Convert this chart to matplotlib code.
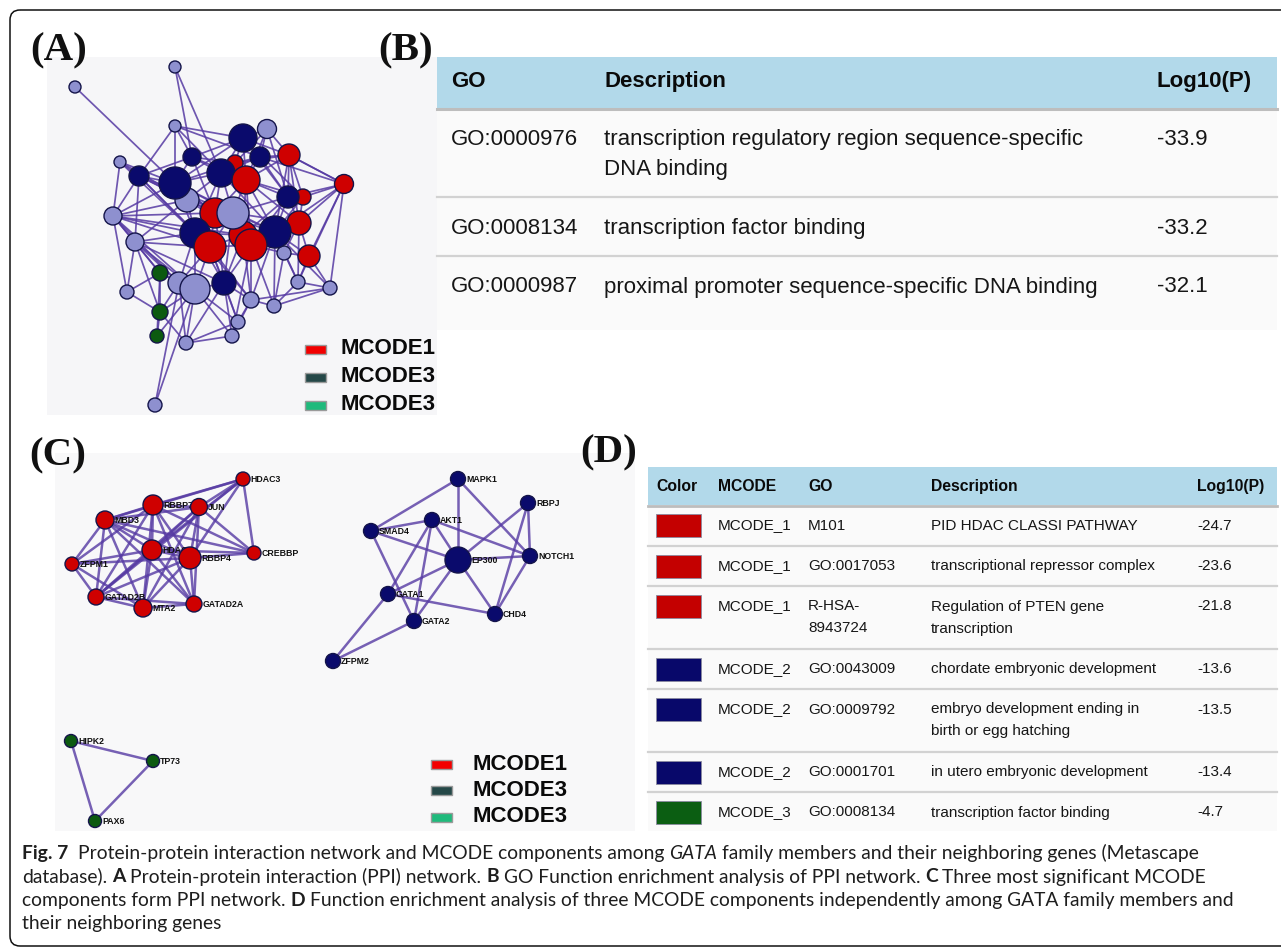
import matplotlib
matplotlib.use("Agg")
import matplotlib.pyplot as plt
from matplotlib.patches import Circle, Rectangle, FancyBboxPatch

# ---------------- (A) PPI network ----------------
a_x = [175, 75, 175, 267, 243, 289, 260, 192, 120, 235, 221, 139, 175, 246, 344,
       288, 303, 187, 215, 233, 113, 299, 275, 195, 243, 210, 251, 135, 284, 309,
       160, 179, 195, 224, 298, 330, 127, 251, 160, 274, 238, 157, 186, 232, 155]
a_y = [67, 87, 126, 129, 138, 155, 157, 157, 162, 163, 173, 176, 183, 180, 184,
       197, 197, 200, 213, 213, 216, 223, 232, 233, 235, 247, 245, 242, 253, 256,
       273, 283, 289, 283, 282, 288, 292, 300, 312, 306, 322, 336, 343, 336, 405]
a_r = [6, 6, 6, 9.5, 14, 11, 10, 9, 6, 8, 14, 10, 16, 14, 9.5,
       11, 8, 12, 15, 16, 9, 12, 16, 15, 14, 16, 16, 9, 7, 11,
       8, 11, 15, 12, 7, 7, 7, 8, 8, 7, 7, 7, 7, 7, 7]
a_kind = ["L", "L", "L", "L", "N", "R", "N", "N", "L", "R", "N", "N", "N", "R", "R",
          "N", "R", "L", "R", "L", "L", "R", "N", "N", "R", "R", "R", "L", "L", "R",
          "G", "L", "L", "N", "L", "L", "L", "L", "G", "L", "L", "G", "L", "L", "L"]
a_edges = [
    (1, 12), (0, 10), (0, 7), (2, 7), (2, 12), (2, 4), (2, 11), (2, 6),
    (3, 4), (3, 6), (3, 5), (3, 9), (3, 15),
    (4, 6), (4, 5), (4, 9), (4, 10), (4, 13), (4, 7), (4, 12), (4, 15), (4, 16),
    (5, 6), (5, 14), (5, 13), (5, 15), (5, 21), (5, 16), (5, 22), (5, 9),
    (6, 13), (6, 15), (6, 10), (6, 9), (6, 14),
    (7, 12), (7, 10), (7, 11), (7, 9), (7, 13), (7, 18),
    (8, 11), (8, 12), (8, 20), (8, 23),
    (9, 10), (9, 13), (9, 12),
    (10, 13), (10, 12), (10, 18), (10, 19), (10, 17), (10, 22), (10, 23),
    (11, 12), (11, 20), (11, 27), (11, 23), (11, 17), (11, 25), (11, 18),
    (12, 17), (12, 18), (12, 23), (12, 19), (12, 20), (12, 24),
    (13, 19), (13, 18), (13, 15), (13, 22), (13, 24), (13, 16), (13, 26),
    (14, 16), (14, 15), (14, 21), (14, 22), (14, 29), (14, 35), (14, 34),
    (15, 16), (15, 22), (15, 21), (15, 19), (15, 24),
    (16, 21), (16, 22),
    (17, 18), (17, 23), (17, 20), (17, 19), (17, 27),
    (18, 19), (18, 23), (18, 25), (18, 24), (18, 26), (18, 22),
    (19, 22), (19, 24), (19, 26), (19, 25), (19, 23), (19, 21),
    (20, 27), (20, 23), (20, 25), (20, 24), (20, 36), (20, 30), (20, 31), (20, 18),
    (21, 22), (21, 29), (21, 28), (21, 34), (21, 24),
    (22, 24), (22, 26), (22, 28), (22, 29), (22, 34), (22, 35), (22, 37), (22, 39),
    (23, 25), (23, 24), (23, 27), (23, 32), (23, 31), (23, 33),
    (24, 26), (24, 25), (24, 33), (24, 37),
    (25, 26), (25, 32), (25, 33), (25, 31), (25, 27), (25, 40),
    (26, 33), (26, 37), (26, 28), (26, 39), (26, 43),
    (27, 36), (27, 30), (27, 31), (27, 32), (27, 38),
    (28, 29), (28, 34), (28, 39), (29, 34), (29, 35),
    (30, 31), (30, 32), (30, 38), (30, 41), (30, 36),
    (31, 32), (31, 38), (31, 42), (31, 44),
    (32, 33), (32, 38), (32, 41), (32, 42), (32, 43), (32, 40), (32, 44),
    (33, 37), (33, 40), (33, 43), (33, 42),
    (34, 35), (34, 39), (35, 39), (35, 37),
    (37, 40), (37, 39), (37, 43), (38, 41), (38, 42),
    (40, 43), (40, 42), (42, 43), (36, 38),
    (8, 17), (11, 19), (12, 22), (17, 24), (20, 32), (27, 33), (23, 37), (13, 21),
    (15, 26), (19, 33), (18, 33), (25, 37), (2, 10), (3, 13), (14, 5),
]

# ---------------- (C) MCODE components ----------------
c1_names = ["HDAC3", "RBBP7", "JUN", "MBD3", "HDAC1", "RBBP4", "CREBBP",
            "ZFPM1", "GATAD2B", "MTA2", "GATAD2A"]
c1_x = [243, 153, 199, 105, 152, 190, 254, 72, 96, 143, 194]
c1_y = [479, 505, 507, 520, 550, 558, 553, 564, 597, 608, 604]
c1_r = [7, 10, 8.5, 9, 10, 11, 7, 7, 8, 9, 8]
c1_edges = [
    ("HDAC3", "RBBP7"), ("HDAC3", "JUN"), ("HDAC3", "CREBBP"), ("HDAC3", "RBBP4"),
    ("HDAC3", "HDAC1"), ("HDAC3", "MBD3"), ("HDAC3", "GATAD2B"),
    ("RBBP7", "JUN"), ("RBBP7", "MBD3"), ("RBBP7", "HDAC1"), ("RBBP7", "RBBP4"),
    ("RBBP7", "CREBBP"), ("RBBP7", "ZFPM1"), ("RBBP7", "GATAD2B"), ("RBBP7", "MTA2"),
    ("RBBP7", "GATAD2A"),
    ("JUN", "MBD3"), ("JUN", "HDAC1"), ("JUN", "RBBP4"), ("JUN", "CREBBP"),
    ("JUN", "MTA2"), ("JUN", "GATAD2B"), ("JUN", "GATAD2A"),
    ("MBD3", "HDAC1"), ("MBD3", "RBBP4"), ("MBD3", "ZFPM1"), ("MBD3", "GATAD2B"),
    ("MBD3", "MTA2"), ("MBD3", "GATAD2A"), ("MBD3", "CREBBP"),
    ("HDAC1", "RBBP4"), ("HDAC1", "ZFPM1"), ("HDAC1", "GATAD2B"), ("HDAC1", "MTA2"),
    ("HDAC1", "GATAD2A"), ("HDAC1", "CREBBP"),
    ("RBBP4", "CREBBP"), ("RBBP4", "ZFPM1"), ("RBBP4", "GATAD2B"), ("RBBP4", "MTA2"),
    ("RBBP4", "GATAD2A"),
    ("ZFPM1", "GATAD2B"), ("ZFPM1", "MTA2"),
    ("GATAD2B", "MTA2"), ("GATAD2B", "GATAD2A"), ("MTA2", "GATAD2A"),
]

c2_names = ["MAPK1", "RBPJ", "AKT1", "SMAD4", "EP300", "NOTCH1", "GATA1",
            "CHD4", "GATA2", "ZFPM2"]
c2_x = [458, 528, 432, 371, 458, 530, 388, 495, 414, 333]
c2_y = [479, 503, 520, 531, 560, 556, 594, 614, 621, 661]
c2_r = [7.5, 7.5, 7.5, 7.5, 13, 7.5, 7.5, 7.5, 7.5, 7.5]
c2_edges = [
    ("MAPK1", "SMAD4"), ("MAPK1", "EP300"), ("MAPK1", "NOTCH1"),
    ("RBPJ", "EP300"), ("RBPJ", "NOTCH1"), ("RBPJ", "CHD4"),
    ("AKT1", "SMAD4"), ("AKT1", "EP300"), ("AKT1", "NOTCH1"), ("AKT1", "GATA1"),
    ("AKT1", "GATA2"), ("SMAD4", "EP300"), ("SMAD4", "GATA2"),
    ("EP300", "NOTCH1"), ("EP300", "GATA1"), ("EP300", "GATA2"), ("EP300", "CHD4"),
    ("NOTCH1", "CHD4"), ("GATA1", "CHD4"), ("GATA1", "ZFPM2"), ("GATA2", "ZFPM2"),
]

c3_names = ["HIPK2", "TP73", "PAX6"]
c3_x = [71, 153, 95]
c3_y = [741, 761, 821]
c3_r = [6.5, 6.5, 6.5]
c3_edges = [("HIPK2", "TP73"), ("HIPK2", "PAX6"), ("TP73", "PAX6")]

legend_labels = ["MCODE1", "MCODE3", "MCODE3"]
legend_colors = ["#f20000", "#254848", "#1fba7c"]

# ---------------- (B) GO enrichment table ----------------
b_header = ["GO", "Description", "Log10(P)"]
b_go = ["GO:0000976", "GO:0008134", "GO:0000987"]
b_desc = ["transcription regulatory region sequence-specific\nDNA binding",
          "transcription factor binding",
          "proximal promoter sequence-specific DNA binding"]
b_logp = [-33.9, -33.2, -32.1]

# ---------------- (D) MCODE enrichment table ----------------
d_header = ["Color", "MCODE", "GO", "Description", "Log10(P)"]
d_color = ["#c40000", "#c40000", "#c40000", "#08086a", "#08086a", "#08086a", "#0b5e12"]
d_mcode = ["MCODE_1", "MCODE_1", "MCODE_1", "MCODE_2", "MCODE_2", "MCODE_2", "MCODE_3"]
d_go = ["M101", "GO:0017053", "R-HSA-\n8943724", "GO:0043009", "GO:0009792",
        "GO:0001701", "GO:0008134"]
d_desc = ["PID HDAC CLASSI PATHWAY", "transcriptional repressor complex",
          "Regulation of PTEN gene\ntranscription", "chordate embryonic development",
          "embryo development ending in\nbirth or egg hatching",
          "in utero embryonic development", "transcription factor binding"]
d_logp = [-24.7, -23.6, -21.8, -13.6, -13.5, -13.4, -4.7]

node_fill = {"L": "#8e90cf", "N": "#0a0a6c", "R": "#cf0000", "G": "#0c5a10"}
edge_col = "#563aa3"
sans = "Liberation Sans"
serif = "Liberation Serif"

fig = plt.figure(figsize=(12.81, 9.49), dpi=100)
ax = fig.add_axes([0, 0, 1, 1])
ax.set_xlim(0, 1281)
ax.set_ylim(949, 0)
ax.axis("off")

# outer frame, open to the right
ax.add_patch(FancyBboxPatch((10, 10), 1320, 936, boxstyle="round,pad=0,rounding_size=10",
                            fc="none", ec="#111111", lw=1.1, zorder=1))

# panel backgrounds
ax.add_patch(Rectangle((47, 57), 390, 358, fc="#f6f6f8", ec="none", zorder=0))
ax.add_patch(Rectangle((55, 453), 580, 378, fc="#f8f8f9", ec="none", zorder=0))

for lab, x, y in [("(A)", 30, 60), ("(B)", 378, 60), ("(C)", 29, 465), ("(D)", 580, 462)]:
    ax.text(x, y, lab, family=serif, fontweight="bold", fontsize=29.5, va="baseline",
            ha="left", color="#111111")


def draw_net(xs, ys, rs, fills, edges, lw, alpha, labels=None, label_size=6.3):
    for i, j in edges:
        ax.plot([xs[i], xs[j]], [ys[i], ys[j]], color=edge_col, lw=lw, alpha=alpha,
                solid_capstyle="round", zorder=2)
    for k in range(len(xs)):
        ax.add_patch(Circle((xs[k], ys[k]), rs[k], fc=fills[k], ec="#14144a", lw=1.0,
                            zorder=3 + rs[k] / 100))
        if labels:
            ax.text(xs[k] + rs[k] + 0.5, ys[k] + 0.5, labels[k], fontsize=label_size,
                    family=sans, fontweight="bold", va="center", ha="left",
                    color="#111111", zorder=3.05)


# network A
draw_net(a_x, a_y, a_r, [node_fill[k] for k in a_kind], a_edges, 1.25, 0.85)


def named_edges(names, pairs):
    idx = {n: i for i, n in enumerate(names)}
    return [(idx[a], idx[b]) for a, b in pairs]


draw_net(c1_x, c1_y, c1_r, [node_fill["R"]] * len(c1_x), named_edges(c1_names, c1_edges),
         1.8, 0.8, c1_names)
draw_net(c2_x, c2_y, c2_r, [node_fill["N"]] * len(c2_x), named_edges(c2_names, c2_edges),
         1.8, 0.8, c2_names)
draw_net(c3_x, c3_y, c3_r, [node_fill["G"]] * len(c3_x), named_edges(c3_names, c3_edges),
         1.8, 0.8, c3_names)


def draw_legend(x, y, step, gap):
    for k, (lab, col) in enumerate(zip(legend_labels, legend_colors)):
        yy = y + k * step
        ax.add_patch(Rectangle((x, yy - 4.5), 21, 9, fc=col, ec="#9a9a9a", lw=1.0, zorder=4))
        ax.text(x + gap, yy, lab, family=sans, fontweight="bold", fontsize=16,
                va="center", ha="left", color="#0a0a0a", zorder=4)


draw_legend(305, 349, 28, 35)
draw_legend(431, 764, 26.5, 41)

# ---- table B ----
b_left, b_right = 437, 1277
b_cols = [451, 604, 1157]
ax.add_patch(Rectangle((b_left, 57), b_right - b_left, 51, fc="#b2d9ea", ec="none", zorder=1))
ax.add_patch(Rectangle((b_left, 108), b_right - b_left, 222, fc="#fafafa", ec="none", zorder=0.5))
ax.plot([b_left, b_right], [108.5, 108.5], color="#bdbdbd", lw=2.2, zorder=1.2)
for x, h in zip(b_cols, b_header):
    ax.text(x, 81, h, family=sans, fontweight="bold", fontsize=16, va="center", ha="left",
            color="#0a0a0a")
top = 108
for k, (g, d, p) in enumerate(zip(b_go, b_desc, b_logp)):
    lines = d.split("\n")
    ax.text(b_cols[0], top + 31, g, family=sans, fontsize=16, va="center", color="#161616")
    for m, line in enumerate(lines):
        ax.text(b_cols[1], top + 31 + 30 * m, line, family=sans, fontsize=16, va="center",
                color="#161616")
    ax.text(b_cols[2], top + 31, f"{p:.1f}", family=sans, fontsize=16, va="center",
            color="#161616")
    top += 59 + 30 * (len(lines) - 1)
    if k < len(b_go) - 1:
        ax.plot([b_left, b_right], [top, top], color="#d2d2d2", lw=1.6, zorder=1.2)

# ---- table D ----
d_left, d_right = 648, 1277
d_cols = [656, 718, 808, 931, 1197]
ax.add_patch(Rectangle((d_left, 467), d_right - d_left, 38, fc="#b2d9ea", ec="none", zorder=1))
ax.add_patch(Rectangle((d_left, 505), d_right - d_left, 326, fc="#fafafa", ec="none", zorder=0.5))
ax.plot([d_left, d_right], [505.5, 505.5], color="#bdbdbd", lw=2.0, zorder=1.2)
for x, h in zip(d_cols, d_header):
    ax.text(x, 486, h, family=sans, fontweight="bold", fontsize=11.3, va="center", ha="left",
            color="#0a0a0a")
top = 505
for k in range(len(d_mcode)):
    go_lines = d_go[k].split("\n")
    desc_lines = d_desc[k].split("\n")
    n = max(len(go_lines), len(desc_lines))
    y0 = top + 20.5
    ax.add_patch(Rectangle((d_cols[0], y0 - 11.5), 45, 23, fc=d_color[k], ec="#8a8aa0",
                           lw=0.6, zorder=2))
    ax.text(d_cols[1], y0, d_mcode[k], family=sans, fontsize=11, va="center", color="#161616")
    for m, line in enumerate(go_lines):
        ax.text(d_cols[2], y0 + 22 * m, line, family=sans, fontsize=11, va="center",
                color="#161616")
    for m, line in enumerate(desc_lines):
        ax.text(d_cols[3], y0 + 22 * m, line, family=sans, fontsize=11, va="center",
                color="#161616")
    ax.text(d_cols[4], y0, f"{d_logp[k]:.1f}", family=sans, fontsize=11, va="center",
            color="#161616")
    top += 40.5 + 22 * (n - 1)
    if k < len(d_mcode) - 1:
        ax.plot([d_left, d_right], [top, top], color="#d2d2d2", lw=1.6, zorder=1.2)

# ---- caption ----
cap_font = "Lato"
cap_size = 13.9
caption = [
    [("Fig. 7 ", "b"), ("Protein-protein interaction network and MCODE components among", ""),
     ("GATA", "i"), ("family members and their neighboring genes (Metascape", "")],
    [("database).", ""), ("A", "b"), ("Protein-protein interaction (PPI) network.", ""),
     ("B", "b"), ("GO Function enrichment analysis of PPI network.", ""), ("C", "b"),
     ("Three most significant MCODE", "")],
    [("components form PPI network.", ""), ("D", "b"),
     ("Function enrichment analysis of three MCODE components independently among GATA family members and", "")],
    [("their neighboring genes", "")],
]
renderer = fig.canvas.get_renderer()


def width_of(s, style):
    t = ax.text(0, 0, s, family=cap_font, fontsize=cap_size,
                fontweight="bold" if "b" in style else "normal",
                fontstyle="italic" if "i" in style else "normal")
    w = t.get_window_extent(renderer=renderer).width
    t.remove()
    return w


space_w = width_of("a a", "") - width_of("aa", "")
for n, line in enumerate(caption):
    x = 22
    y = 859 + 23.5 * n
    for s, style in line:
        ax.text(x, y, s.strip(), family=cap_font, fontsize=cap_size, va="baseline", ha="left",
                fontweight="bold" if "b" in style else "normal",
                fontstyle="italic" if "i" in style else "normal", color="#1e1e1e")
        x += width_of(s.strip(), style) + space_w * (2 if s.endswith(" ") else 1)

fig.savefig("out.png", dpi=100, facecolor="white")
